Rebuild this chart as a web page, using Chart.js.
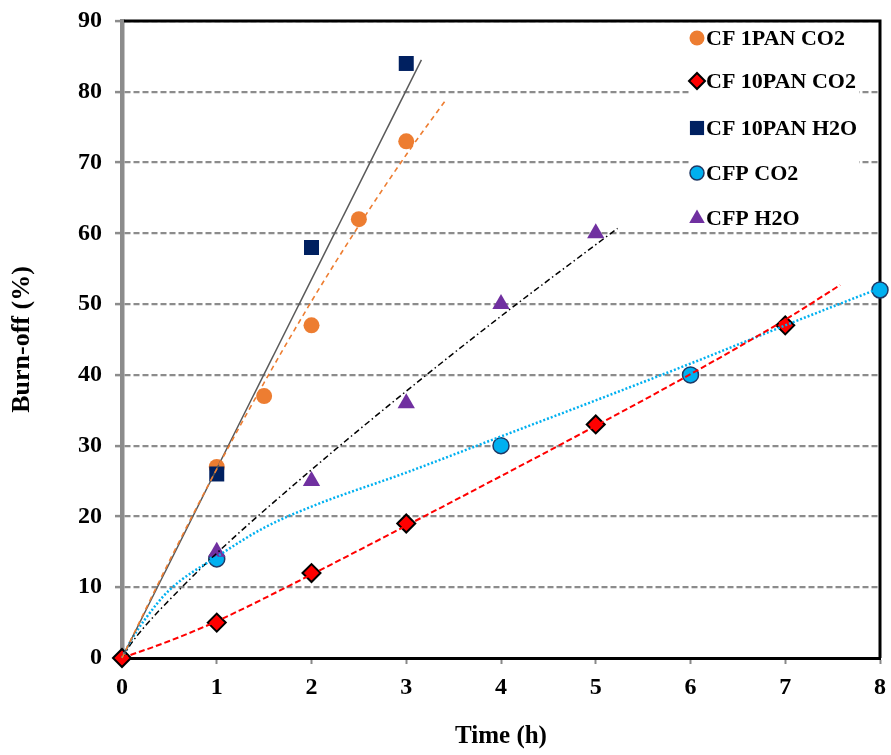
<!DOCTYPE html>
<html><head><meta charset="utf-8">
<script src="https://cdn.jsdelivr.net/npm/chart.js@4/dist/chart.umd.min.js"></script>
<style>html,body{margin:0;padding:0;background:#fff}#wrap{width:891px;height:755px;position:relative}</style>
</head><body><div id="wrap"><canvas id="c"></canvas></div>
<script>
// ---- data ----
const seriesNames = ['CF 1PAN CO2', 'CF 10PAN CO2', 'CF 10PAN H2O', 'CFP CO2', 'CFP H2O'];

const cf1panCO2Time = [1, 1.5, 2, 2.5, 3];
const cf1panCO2Burn = [27, 37, 47, 62, 73];

const cf10panCO2Time = [0, 1, 2, 3, 5, 7];
const cf10panCO2Burn = [0, 5, 12, 19, 33, 47];

const cf10panH2OTime = [1, 2, 3];
const cf10panH2OBurn = [26, 58, 84];

const cfpCO2Time = [1, 4, 6, 8];
const cfpCO2Burn = [14, 30, 40, 52];

const cfpH2OTime = [1, 2, 3, 4, 5];
const cfpH2OBurn = [15, 25, 36, 50, 60];

// trendlines
const trend1panCO2Time = [0, 0.5, 1, 1.5, 2, 2.5, 3, 3.41];
const trend1panCO2Burn = [0, 13.7, 26.7, 38.9, 50.4, 61.1, 71.1, 78.7];

const trend10panCO2Time = [0, 0.5, 1, 2, 3, 4, 5, 6, 7, 7.58];
const trend10panCO2Burn = [0, 2.4, 5.2, 11.8, 18.7, 25.7, 32.8, 40.1, 47.8, 52.7];

const trend10panH2OTime = [0, 3.16];
const trend10panH2OBurn = [0, 84.5];

const trendCfpCO2Time = [0, 0.1, 0.25, 0.5, 1, 1.5, 2, 3, 4, 5, 6, 7, 7.93];
const trendCfpCO2Burn = [0, 2.6, 5.6, 9.6, 14.3, 18.4, 21.4, 26.2, 31.3, 36.4, 41.6, 47.0, 51.9];

const trendCfpH2OTime = [0, 0.1, 0.25, 0.5, 1, 2, 3, 4, 5, 5.23];
const trendCfpH2OBurn = [0, 2.1, 4.6, 8.2, 14.8, 26.6, 37.7, 48.3, 58.4, 60.7];

const xTickValues = [0, 1, 2, 3, 4, 5, 6, 7, 8];
const yTickValues = [0, 10, 20, 30, 40, 50, 60, 70, 80, 90];

const xTitle = 'Time (h)';
const yTitle = 'Burn-off (%)';

// ---- build ----
const pts = (xs, ys) => xs.map((x, i) => ({x: x, y: ys[i]}));
const FONT = "'Liberation Serif', 'Times New Roman', serif";

const markerDefs = [
  {pointStyle: 'circle', radius: 8, bg: '#ED7D31', border: '#ED7D31', bw: 0},
  {pointStyle: 'rectRot', radius: 9, bg: '#FF0000', border: '#000000', bw: 2},
  {pointStyle: 'rect', radius: 10.6, bg: '#002060', border: '#002060', bw: 0},
  {pointStyle: 'circle', radius: 8, bg: '#00B0F0', border: '#1F3864', bw: 1.5},
  {pointStyle: 'triangle', radius: 10, bg: '#7030A0', border: '#7030A0', bw: 0}
];

function markerDataset(i, xs, ys, order) {
  const m = markerDefs[i];
  return {
    label: seriesNames[i], data: pts(xs, ys), showLine: false,
    pointStyle: m.pointStyle, pointRadius: m.radius, pointHoverRadius: m.radius,
    pointBackgroundColor: m.bg, pointBorderColor: m.border, pointBorderWidth: m.bw,
    order: order, clip: false
  };
}
function trendDataset(xs, ys, color, width, dash, curved) {
  return {
    label: '', data: pts(xs, ys), showLine: true, pointRadius: 0, pointHoverRadius: 0,
    borderColor: color, borderWidth: width, borderDash: dash, fill: false,
    cubicInterpolationMode: curved ? 'monotone' : 'default', tension: 0,
    order: -1, clip: false
  };
}

const datasets = [
  markerDataset(0, cf1panCO2Time, cf1panCO2Burn, 5),
  markerDataset(1, cf10panCO2Time, cf10panCO2Burn, 0),
  markerDataset(2, cf10panH2OTime, cf10panH2OBurn, 3),
  markerDataset(3, cfpCO2Time, cfpCO2Burn, 2),
  markerDataset(4, cfpH2OTime, cfpH2OBurn, 1),
  trendDataset(trend1panCO2Time, trend1panCO2Burn, '#ED7D31', 1.6, [5, 4], true),
  trendDataset(trend10panCO2Time, trend10panCO2Burn, '#FF0000', 2, [6, 3], true),
  trendDataset(trend10panH2OTime, trend10panH2OBurn, '#595959', 1.5, [], false),
  trendDataset(trendCfpCO2Time, trendCfpCO2Burn, '#00B0F0', 2.5, [2, 2], true),
  trendDataset(trendCfpH2OTime, trendCfpH2OBurn, '#000000', 1.5, [6, 3, 1.5, 3], true)
];

function drawMarker(ctx, m, x, y, r) {
  ctx.save();
  ctx.fillStyle = m.bg; ctx.strokeStyle = m.border; ctx.lineWidth = m.bw;
  ctx.beginPath();
  if (m.pointStyle === 'circle') {
    ctx.arc(x, y, r, 0, Math.PI * 2);
  } else if (m.pointStyle === 'rectRot') {
    ctx.moveTo(x - r, y); ctx.lineTo(x, y - r); ctx.lineTo(x + r, y); ctx.lineTo(x, y + r); ctx.closePath();
  } else if (m.pointStyle === 'rect') {
    const s = r * Math.SQRT1_2; ctx.rect(x - s, y - s, 2 * s, 2 * s);
  } else if (m.pointStyle === 'triangle') {
    const h = r * 0.866;
    ctx.moveTo(x, y - r * 0.95); ctx.lineTo(x + h, y + r * 0.55); ctx.lineTo(x - h, y + r * 0.55); ctx.closePath();
  }
  ctx.fill();
  if (m.bw > 0) ctx.stroke();
  ctx.restore();
}

const framePlugin = {
  id: 'frame',
  beforeDatasetsDraw(chart) {
    const {ctx, chartArea: a} = chart;
    ctx.save();
    ctx.strokeStyle = '#000'; ctx.lineWidth = 3;
    ctx.beginPath();
    ctx.moveTo(a.left + 2, a.top); ctx.lineTo(a.right, a.top); ctx.lineTo(a.right, a.bottom);
    ctx.stroke();
    ctx.restore();
  },
  afterDatasetsDraw(chart) {
    const {ctx, chartArea: a} = chart;
    ctx.save();
    const bx = 691, by = 25, bw = 168, bh = 205;
    ctx.fillStyle = '#fff';
    ctx.fillRect(bx, by, bw, bh);
    ctx.font = "bold 22px " + FONT;
    ctx.textBaseline = 'middle'; ctx.textAlign = 'left'; ctx.fillStyle = '#000';
    const ys = [38, 81, 128, 173, 218];
    const sizes = [7.5, 8, 10, 7, 9];
    seriesNames.forEach((name, i) => {
      const y = ys[i];
      drawMarker(ctx, markerDefs[i], 697, y, sizes[i]);
      ctx.fillStyle = '#000';
      ctx.fillText(name, 706, y + 1);
    });
    ctx.restore();
  }
};

function zeroPad(s) { s.paddingLeft = 0; s.paddingRight = 0; s.paddingTop = 0; s.paddingBottom = 0; }

new Chart(document.getElementById('c'), {
  type: 'scatter',
  data: {datasets: datasets},
  options: {
    responsive: true, maintainAspectRatio: false, animation: false,
    layout: {padding: {top: 21, right: 9, left: 0, bottom: 0}},
    plugins: {legend: {display: false}, tooltip: {enabled: false}},
    scales: {
      x: {
        type: 'linear', min: 0, max: 8,
        afterFit: s => { s.height = 97; zeroPad(s); },
        afterBuildTicks: s => { s.ticks = xTickValues.map(v => ({value: v})); },
        grid: {drawOnChartArea: false, drawTicks: true, tickLength: 6, tickColor: '#888', tickWidth: 2},
        border: {display: true, color: '#000', width: 3},
        ticks: {color: '#000', font: {family: FONT, size: 24, weight: 'bold'}, padding: 9, maxRotation: 0},
        title: {display: true, text: xTitle, color: '#000', font: {family: FONT, size: 25, weight: 'bold'}, padding: {top: 0, bottom: 3}}
      },
      y: {
        type: 'linear', min: 0, max: 90,
        afterFit: s => { s.width = 122; zeroPad(s); },
        afterBuildTicks: s => { s.ticks = yTickValues.map(v => ({value: v})); },
        grid: {drawOnChartArea: true, drawTicks: true, tickLength: 7, color: '#8c8c8c', lineWidth: 2.2,
               tickColor: '#8c8c8c', tickWidth: 2.5, tickBorderDash: []},
        border: {display: true, color: '#8c8c8c', width: 4.5, dash: [6, 3]},
        ticks: {color: '#000', font: {family: FONT, size: 24, weight: 'bold'}, padding: 13},
        title: {display: true, text: yTitle, color: '#000', font: {family: FONT, size: 26, weight: 'bold'}, padding: {top: 7, bottom: 0}}
      }
    }
  },
  plugins: [framePlugin]
});
</script>
</body></html>
